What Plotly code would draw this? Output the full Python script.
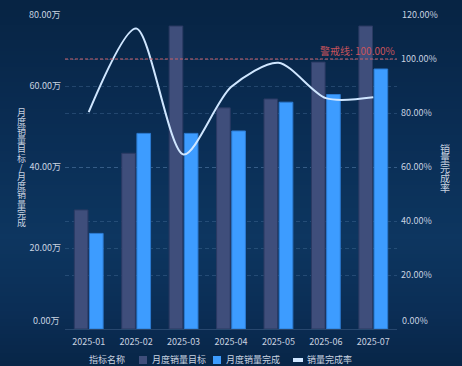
import base64
import struct
import zlib

import plotly.graph_objects as go

months = ["2025-01", "2025-02", "2025-03", "2025-04", "2025-05", "2025-06", "2025-07"]
target = [29.4, 43.4, 74.8, 54.6, 56.8, 65.9, 74.8]          # 万
completed = [23.6, 48.3, 48.3, 48.9, 56.0, 57.9, 64.2]       # 万
rate = [80.3, 111.3, 64.6, 89.6, 98.6, 85.5, 85.8]           # %
left_ticks = [0, 20, 40, 60, 80]
left_tick_text = ["0.00万", "20.00万", "40.00万", "60.00万", "80.00万"]
right_ticks = [0, 20, 40, 60, 80, 100, 120]
right_tick_text = ["0.00%", "20.00%", "40.00%", "60.00%", "80.00%", "100.00%", "120.00%"]
warn_value = 100
warn_label = "警戒线: 100.00%"
left_title = "月度销量目标/月度销量完成"
right_title = "销量完成率"
legend_title = "指标名称"
series_names = ["月度销量目标", "月度销量完成", "销量完成率"]

FONT = "Noto Sans CJK SC, Noto Sans, sans-serif"
TXT = "#c9d3e0"
GRID = "rgba(90,130,175,0.32)"
C_TARGET = "#3f4e7b"
C_DONE = "#3d9cff"
C_LINE = "#cfe6ff"

W, H = 462, 366
L, R, T, B = 65, 65, 5, 37
PW, PH = W - L - R, H - T - B


def px(x):
    return (x - L) / PW


def py(y):
    return (H - B - y) / PH


# ---- background gradient as a tiny PNG (dark navy, lighter in the middle) ----
def gradient_png(stops, n=96):
    rows = b""
    for i in range(n):
        t = i / (n - 1)
        for (t0, c0), (t1, c1) in zip(stops[:-1], stops[1:]):
            if t0 <= t <= t1:
                f = (t - t0) / (t1 - t0) if t1 > t0 else 0
                c = [round(a + (b - a) * f) for a, b in zip(c0, c1)]
                break
        rows += b"\x00" + bytes(c)

    def chunk(tag, data):
        return struct.pack(">I", len(data)) + tag + data + struct.pack(">I", zlib.crc32(tag + data) & 0xffffffff)
    png = b"\x89PNG\r\n\x1a\n" + chunk(b"IHDR", struct.pack(">IIBBBBB", 1, n, 8, 2, 0, 0, 0))
    png += chunk(b"IDAT", zlib.compress(rows)) + chunk(b"IEND", b"")
    return "data:image/png;base64," + base64.b64encode(png).decode()


bg = gradient_png([(0.0, (7, 36, 68)), (0.35, (10, 45, 84)), (0.65, (13, 54, 96)),
                   (0.85, (11, 46, 86)), (1.0, (8, 38, 72))])

fig = go.Figure()
fig.add_trace(go.Bar(x=months, y=target, name=series_names[0],
                     marker=dict(color=C_TARGET, line=dict(color="#2a3a63", width=1)),
                     yaxis="y"))
fig.add_trace(go.Bar(x=months, y=completed, name=series_names[1],
                     marker=dict(color=C_DONE, line=dict(color="#2c7ad0", width=1)),
                     yaxis="y"))
fig.add_trace(go.Scatter(x=months, y=rate, name=series_names[2], mode="lines",
                         line=dict(color=C_LINE, width=2, shape="spline", smoothing=0.8),
                         yaxis="y2"))

# warning line
fig.add_shape(type="line", xref="paper", x0=0, x1=1, yref="y2", y0=warn_value, y1=warn_value,
              line=dict(color="#c8606a", width=1, dash="3px,2px"))
fig.add_annotation(xref="paper", x=1, yref="y2", y=warn_value, text=warn_label,
                   showarrow=False, xanchor="right", yanchor="bottom", yshift=-1,
                   font=dict(color="#c9545c", size=10, family=FONT))

# extreme tick labels (shifted inward like the reference)
for v, t, ref, anchor, xs, ys in [
    (left_ticks[0], left_tick_text[0], "y", "right", -3, 9),
    (left_ticks[-1], left_tick_text[-1], "y", "right", -3, -9),
    (right_ticks[0], right_tick_text[0], "y2", "left", 3, 9),
    (right_ticks[-1], right_tick_text[-1], "y2", "left", 3, -9),
]:
    fig.add_annotation(xref="paper", x=0 if anchor == "right" else 1, xanchor=anchor,
                       yref=ref, y=v, yanchor="middle", xshift=xs, yshift=ys,
                       text=t, showarrow=False, font=dict(size=9, color=TXT, family=FONT))

# vertical axis titles, one character per line
for i, ch in enumerate(left_title):
    fig.add_annotation(xref="paper", x=px(21), yref="paper", y=py(112 + i * 9.2),
                       xanchor="center", yanchor="middle", text=ch, showarrow=False,
                       borderpad=0, font=dict(size=9, color=TXT, family=FONT))
for i, ch in enumerate(right_title):
    fig.add_annotation(xref="paper", x=px(445), yref="paper", y=py(148 + i * 9.8),
                       xanchor="center", yanchor="middle", text=ch, showarrow=False,
                       borderpad=0, font=dict(size=10, color=TXT, family=FONT))

# compact legend
LY = 360
fig.add_annotation(xref="paper", x=px(88), yref="paper", y=py(LY - 0.5), xanchor="left",
                   yanchor="middle", text=legend_title, showarrow=False, borderpad=0,
                   font=dict(size=9, color=TXT, family=FONT))
for (x0, x1, tx), col, name, kind in zip(
        [(139, 147, 151), (213, 221, 225), (293, 303, 306)],
        [C_TARGET, C_DONE, C_LINE], series_names, ["sq", "sq", "ln"]):
    if kind == "sq":
        fig.add_shape(type="rect", xref="paper", yref="paper", x0=px(x0), x1=px(x1),
                      y0=py(LY + 4), y1=py(LY - 4), fillcolor=col, line=dict(width=0))
    else:
        fig.add_shape(type="rect", xref="paper", yref="paper", x0=px(x0), x1=px(x1),
                      y0=py(LY + 2), y1=py(LY - 2), fillcolor=col, line=dict(width=0))
    fig.add_annotation(xref="paper", x=px(tx), yref="paper", y=py(LY - 0.5), xanchor="left",
                       yanchor="middle", text=name, showarrow=False, borderpad=0,
                       font=dict(size=9, color=TXT, family=FONT))

fig.update_layout(
    width=W, height=H,
    margin=dict(l=L, r=R, t=T, b=B),
    paper_bgcolor="#0b2c54",
    plot_bgcolor="rgba(0,0,0,0)",
    images=[dict(source=bg, xref="paper", yref="paper", x=-L / PW, y=1 + T / PH,
                 sizex=W / PW, sizey=H / PH, sizing="stretch", layer="below",
                 xanchor="left", yanchor="top")],
    font=dict(family=FONT, color=TXT, size=10),
    barmode="group", bargap=0.36, bargroupgap=0.1,
    showlegend=False,
    hovermode=False,
    xaxis=dict(type="category", showgrid=False, showline=True, linecolor="#27476e",
               linewidth=1, ticks="", tickfont=dict(size=9, color=TXT), ticklabelstandoff=4),
    yaxis=dict(range=[0, 80], tickvals=left_ticks[1:-1], ticktext=left_tick_text[1:-1],
               showgrid=True, gridcolor=GRID, griddash="4px,3px", zeroline=False,
               showline=False, tickfont=dict(size=9, color=TXT), ticklabelstandoff=3),
    yaxis2=dict(range=[0, 120], tickvals=right_ticks[1:-1], ticktext=right_tick_text[1:-1],
                overlaying="y", side="right", showgrid=True, gridcolor=GRID, griddash="4px,3px",
                zeroline=False, showline=False, tickfont=dict(size=9, color=TXT),
                ticklabelstandoff=3),
)

fig.write_html("out.html", config={"displayModeBar": False})

# remove the browser's default body margin so the figure sits at the window's corner
with open("out.html", "r", encoding="utf-8") as f:
    html = f.read()
html = html.replace("<head>", "<head><style>html,body{margin:0;padding:0;overflow:hidden;background:#0b2c54;}</style>", 1)
with open("out.html", "w", encoding="utf-8") as f:
    f.write(html)
